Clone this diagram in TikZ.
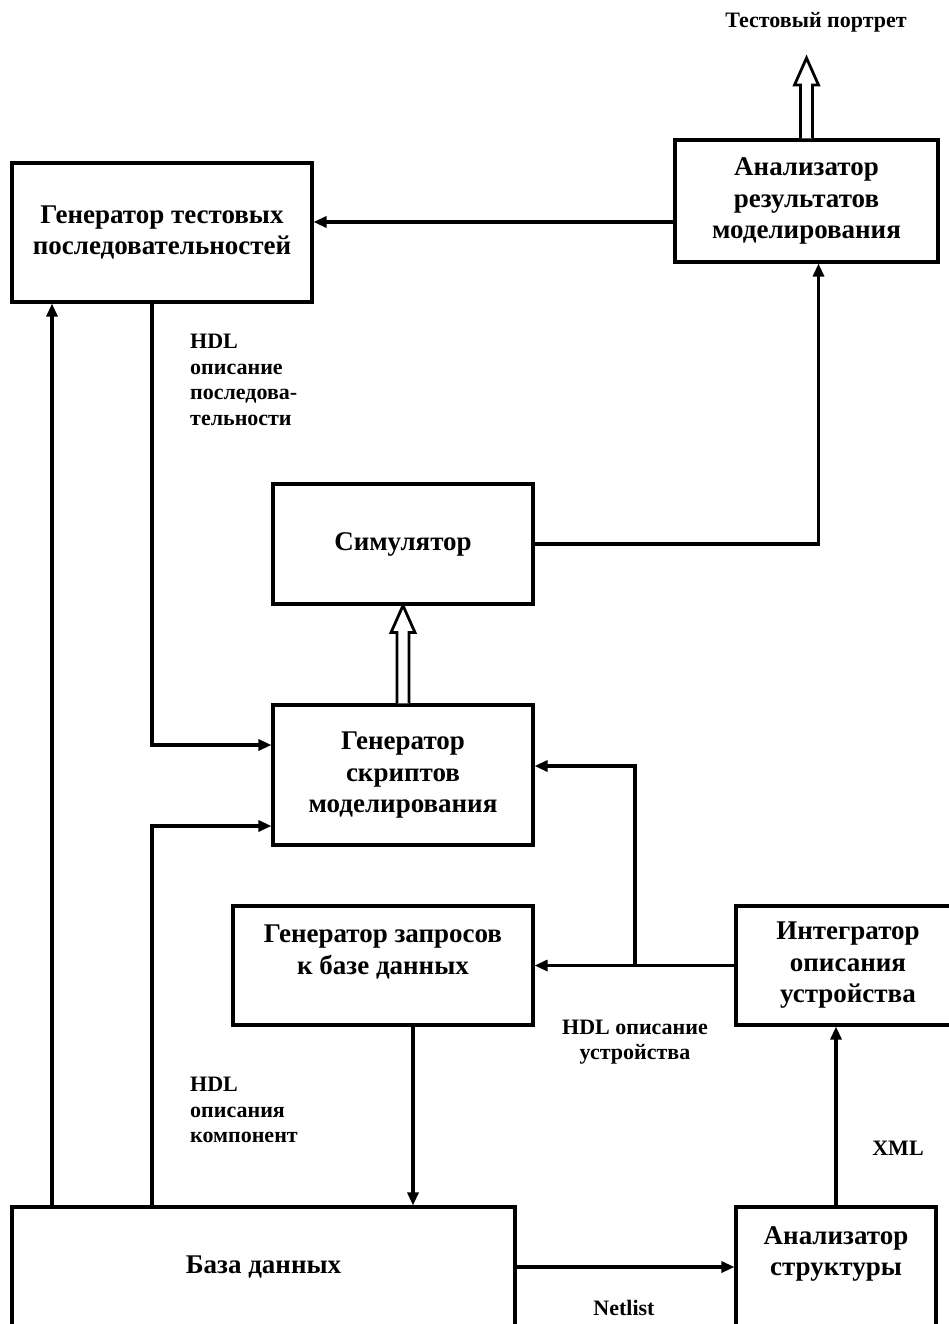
\documentclass[tikz,border=0pt]{standalone}
\usepackage{fontspec}
\setmainfont{Liberation Serif}
\usetikzlibrary{arrows.meta, calc}

\newcommand\hollowarrow[2]{%
  \draw[hollow] ($(#1)+(-6,0)$) -- ($(#2)+(-6,27)$) -- ($(#2)+(-12,27)$) -- (#2)
    -- ($(#2)+(12,27)$) -- ($(#2)+(6,27)$) -- ($(#1)+(6,0)$);}

\begin{document}
\begin{tikzpicture}[x=1pt, y=-1pt, >={Triangle[length=13pt,width=11pt]},
  box/.style={draw, line width=3.1pt, align=center, inner sep=0pt,
    font=\bfseries\fontsize{27}{31.5}\selectfont},
  lbl/.style={align=left, inner sep=0pt, font=\bfseries\fontsize{22}{25.5}\selectfont},
  arr/.style={->, line width=3.1pt},
  hollow/.style={line width=2.8pt, fill=white, line join=miter}]

\clip (0,0) rectangle (949,1324);

% define the blocks
  \node[box, minimum width=300, minimum height=139] (gts) at (162,232.5)
    {Генератор тестовых\\последовательностей};
  \node[box, minimum width=263, minimum height=122] (ares) at (806.5,201)
    {Анализатор\\результатов\\моделирования};
  \node[box, minimum width=260, minimum height=120] (sim) at (403,544)
    {Симулятор};
  \node[box, minimum width=260, minimum height=140] (gs) at (403,775)
    {\raisebox{11pt}{\begin{tabular}{@{}c@{}}Генератор\\скриптов\\моделирования\end{tabular}}};
  \node[box, minimum width=300, minimum height=119] (gq) at (383,965.5)
    {Генератор запросов\\к базе данных\\\mbox{}};
  \node[box, minimum width=224, minimum height=119] (integ) at (848,965.5)
    {Интегратор\\описания\\устройства};
  \node[box, minimum width=503, minimum height=120] (db) at (263.5,1267)
    {База данных};
  \node[box, minimum width=200, minimum height=120] (astr) at (836,1267)
    {Анализатор\\структуры\\\mbox{}};

  \node[lbl, align=center] (portrait) at (816,22) {Тестовый портрет};
  \coordinate (tip) at (806.5,58);
  \coordinate (split) at (635,966);

% define the links
  \draw[arr] ([yshift=-21pt]ares.west) -- ([yshift=-21pt]ares.west -| gts.east);
  \draw[arr] (sim.east) -| ([xshift=12pt]ares.south);
  \draw[arr] ([xshift=-10pt]gts.south) |- ([yshift=30pt]gs.west);
  \draw[arr] ([xshift=-111.5pt]db.north) |- ([yshift=-51pt]gs.west);
  \draw[arr] ([xshift=-211.5pt]db.north) -- ([xshift=-211.5pt]db.north |- gts.south);
  \draw[arr] ([xshift=30pt]gq.south) -- ([xshift=30pt]gq.south |- db.north);
  \draw[arr] (integ.west) -- (integ.west -| gq.east);
  \draw[arr] (split) |- ([yshift=9pt]gs.east);
  \draw[arr] (astr.north) -- (astr.north |- integ.south);
  \draw[arr] (db.east) -- (db.east -| astr.west);

  \hollowarrow{gs.north}{sim.south}
  \hollowarrow{ares.north}{tip}

% labels
  \node[lbl, anchor=north west] (lseq) at (190,334) {HDL\\описание\\последова-\\тельности};
  \node[lbl, align=center] (ldev) at (635,1042) {HDL описание\\устройства};
  \node[lbl, anchor=north west] (lcomp) at (190,1077) {HDL\\описания\\компонент};
  \node[lbl] (lxml) at (898,1148) {XML};
  \node[lbl] (lnet) at (624,1308) {Netlist};

\end{tikzpicture}
\end{document}
